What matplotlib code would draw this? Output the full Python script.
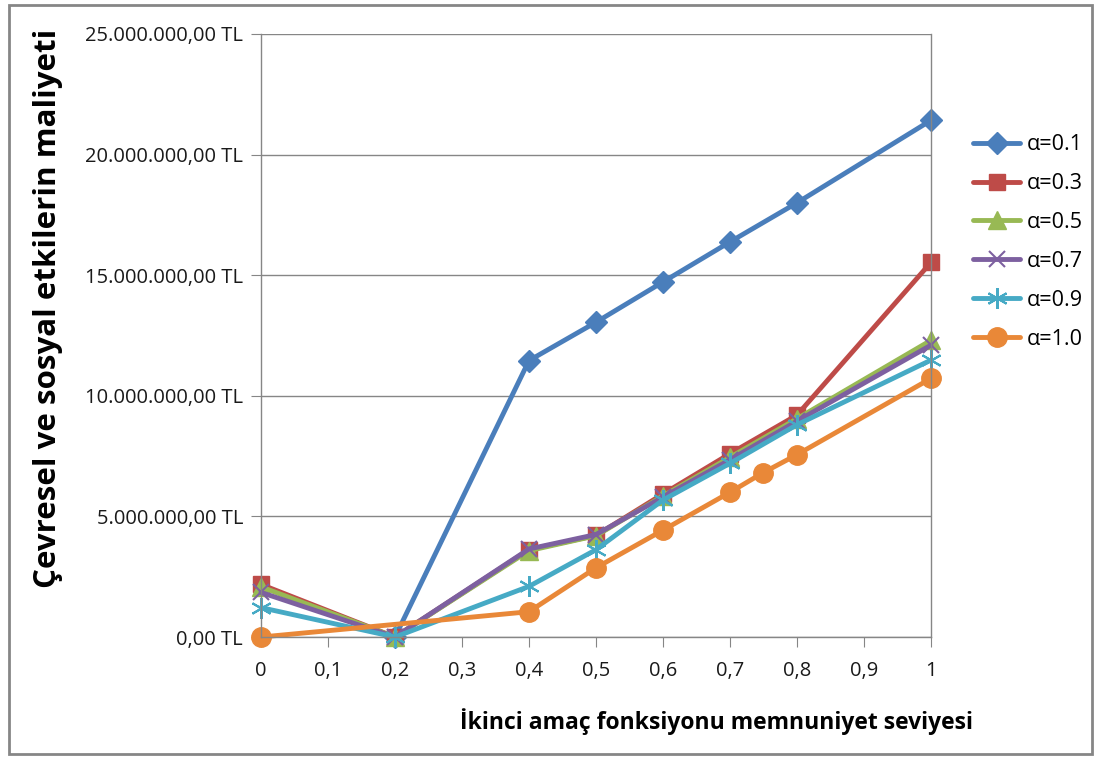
import matplotlib
matplotlib.use("Agg")
import matplotlib.pyplot as plt
from matplotlib import ticker
from matplotlib.patches import Rectangle

# satisfaction level of the second objective
x_full = [0, 0.2, 0.4, 0.5, 0.6, 0.7, 0.8, 1.0]
x_a01 = [0.2, 0.4, 0.5, 0.6, 0.7, 0.8, 1.0]
x_a10 = [0, 0.4, 0.5, 0.6, 0.7, 0.75, 0.8, 1.0]

# environmental and social cost (TL)
a01 = [0, 11_460_000, 13_050_000, 14_720_000, 16_380_000, 18_000_000, 21_420_000]
a03 = [2_180_000, 0, 3_620_000, 4_210_000, 5_930_000, 7_600_000, 9_200_000, 15_530_000]
a05 = [2_080_000, 0, 3_580_000, 4_200_000, 5_850_000, 7_450_000, 9_050_000, 12_300_000]
a07 = [1_850_000, 0, 3_650_000, 4_250_000, 5_800_000, 7_350_000, 8_950_000, 12_100_000]
a09 = [1_220_000, 0, 2_100_000, 3_620_000, 5_680_000, 7_200_000, 8_800_000, 11_480_000]
a10 = [0, 1_050_000, 2_870_000, 4_430_000, 6_000_000, 6_820_000, 7_560_000, 10_720_000]

labels = ["α=0.1", "α=0.3", "α=0.5", "α=0.7", "α=0.9", "α=1.0"]
x_ticks = [0, 0.1, 0.2, 0.3, 0.4, 0.5, 0.6, 0.7, 0.8, 0.9, 1.0]
y_ticks = [0, 5_000_000, 10_000_000, 15_000_000, 20_000_000, 25_000_000]

plt.rcParams["font.family"] = ["Open Sans", "DejaVu Sans"]

fig = plt.figure(figsize=(10.99, 7.6), dpi=100)
ax = fig.add_axes([0.2375, 0.1618, 0.6096, 0.7935])

# (x, y, colour, marker, size)
series = [
    (x_a01, a01, "#4A7EBB", "D", 11.5),
    (x_full, a03, "#BE4B48", "s", 11.5),
    (x_full, a05, "#98B954", "^", 12.5),
    (x_full, a07, "#7D60A0", "x", 12),
    (x_full, a09, "#46AAC5", (6, 2, 0), 15),
    (x_a10, a10, "#E98838", "o", 14),
]

for (xs, ys, c, m, ms), lab in zip(series, labels):
    mew = 1.5 if (m == "x" or isinstance(m, tuple)) else 1
    ax.plot(xs, ys, color=c, lw=3.5, marker=m, markersize=ms, label=lab,
            markerfacecolor=c, markeredgecolor=c, markeredgewidth=mew,
            clip_on=False, solid_capstyle="round")

ax.set_xlim(0, 1)
ax.set_ylim(0, 25_000_000)
ax.set_xticks(x_ticks)
ax.set_yticks(y_ticks)


def tl_fmt(v, pos):
    s = f"{v:,.2f}".replace(",", "X").replace(".", ",").replace("X", ".")
    return s + " TL"


ax.yaxis.set_major_formatter(ticker.FuncFormatter(tl_fmt))
ax.xaxis.set_major_formatter(ticker.FuncFormatter(lambda v, p: f"{v:g}".replace(".", ",")))

ax.grid(axis="y", color="#868686", lw=1)
ax.set_axisbelow(True)
for side in ["left", "bottom", "right"]:
    ax.spines[side].set_color("#868686")
    ax.spines[side].set_linewidth(1)
ax.spines["top"].set_visible(False)
ax.tick_params(axis="both", direction="out", length=7, color="#868686",
               labelsize=14.5, labelcolor="#1a1a1a", pad=6)
ax.tick_params(axis="x", pad=10)

ax.set_ylabel("Çevresel ve sosyal etkilerin maliyeti", fontsize=22.5,
              fontweight="bold", va="center")
ax.yaxis.set_label_coords(-0.318, 0.545)
ax.set_xlabel("İkinci amaç fonksiyonu memnuniyet seviyesi", fontsize=16.5,
              fontweight="bold", va="center")
ax.xaxis.set_label_coords(0.68, -0.141)

ax.legend(loc="upper left", bbox_to_anchor=(1.05, 0.848), frameon=False,
          fontsize=15.5, handlelength=2.2, labelspacing=0.83, handletextpad=0.3,
          borderaxespad=0)

fig.patches.append(Rectangle((0.008, 0.008), 0.986, 0.985, transform=fig.transFigure,
                             fill=False, edgecolor="#868686", lw=2))

fig.savefig("out.png", dpi=100)
